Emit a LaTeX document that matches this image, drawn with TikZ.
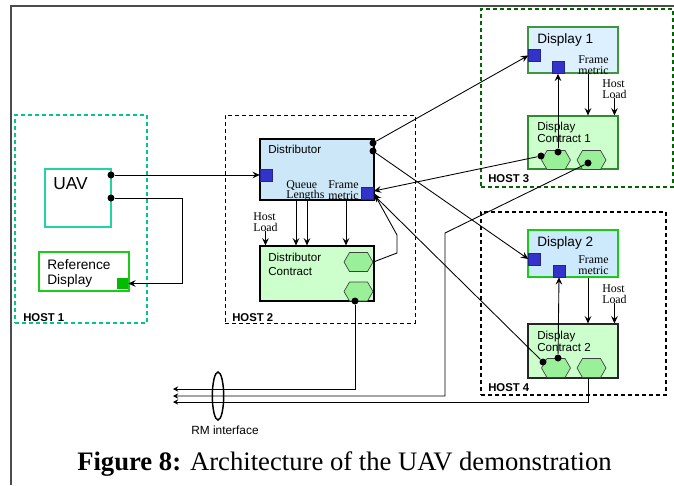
\documentclass[tikz,border=0pt]{standalone}
\usepackage{fontspec}
\setmainfont{Liberation Serif}
\setsansfont{Liberation Sans}
\usetikzlibrary{shapes.symbols,shapes.geometric,fit,arrows.meta,calc}
\definecolor{host1c}{HTML}{00C68A}
\definecolor{host3c}{HTML}{006600}
\definecolor{uavc}{HTML}{22D4A2}
\definecolor{refc}{HTML}{18CC18}
\definecolor{refsq}{HTML}{00BB00}
\definecolor{distfill}{HTML}{CCE8F8}
\definecolor{d1fill}{HTML}{DDF0FF}
\definecolor{d2fill}{HTML}{CCEAFC}
\definecolor{d1c}{HTML}{3E963E}
\definecolor{dc1c}{HTML}{2E8B2E}
\definecolor{confill}{HTML}{CCFFCC}
\definecolor{hexfill}{HTML}{99F099}
\definecolor{sqblue}{HTML}{3333CC}
\tikzset{
  hostbox/.style={draw=#1, dash pattern=on 3pt off 2.25pt, line width=0.8pt, inner sep=0pt},
  blk/.style={draw=#1, line width=0.85pt, inner sep=0pt},
  cblk/.style={draw=#1, line width=0.88pt, inner sep=0pt},
  sq/.style={fill=sqblue, draw=sqblue!70!black, line width=0.4pt, minimum size=9pt, inner sep=0pt},
  hex/.style={signal, signal to=east and west, signal pointer angle=120, draw=black!75, fill=hexfill,
    minimum width=21.75pt, minimum height=14.25pt, inner sep=0pt, line width=0.5pt},
  dot/.style={circle, fill=black, inner sep=0pt, minimum size=5.25pt},
  arr/.style={line width=0.65pt, -{Stealth[length=5.5pt,width=5pt,inset=2pt]}},
  arrs/.style={line width=0.65pt, -{Stealth[length=4pt,width=4pt,inset=1.5pt]}},
  sanslbl/.style={font=\sffamily\fontsize{#1}{#1}\selectfont, anchor=north west, inner sep=0pt, align=left},
  seriflbl/.style={font=\fontsize{8.9}{8.3}\selectfont, anchor=north west, inner sep=0pt, align=left},
  hostlbl/.style={font=\sffamily\bfseries\fontsize{8.5}{10}\selectfont, anchor=north west, inner sep=0pt},
}
\begin{document}
\begin{tikzpicture}[x=0.75pt,y=-0.75pt]
\useasboundingbox (0,0) rectangle (674,485);
% page frame
\draw[line width=1.6pt, black!70] (11,485) -- (11,6) -- (674,6);

% hosts
\node[hostbox=host1c, fit={(15,115)(147,323)}] (host1) {};
\node[hostbox=black, line width=0.75pt, fit={(225,115)(415,323)}] (host2) {};
\node[hostbox=host3c, fit={(481,9)(673,187)}] (host3) {};
\node[hostbox=black, line width=0.85pt, fit={(481,212)(666,395)}] (host4) {};
\node[hostlbl] (host1l) at (23,313) {HOST 1};
\node[hostlbl] (host2l) at (232,313) {HOST 2};
\node[hostlbl] (host3l) at (488,174) {HOST 3};
\node[hostlbl] (host4l) at (488,383) {HOST 4};

% boxes
\node[cblk=uavc, fit={(45,169)(111,227)}] (uav) {};
\node[cblk=refc, fit={(39,252)(129,291)}] (ref) {};
\node[blk=black, fill=distfill, fit={(260,139)(374,200)}] (dist) {};
\node[blk=black, fill=confill, fit={(260,246)(374,301)}] (dcon) {};
\node[cblk=d1c, fill=d1fill, fit={(528,27)(618,73)}] (d1) {};
\node[cblk=dc1c, fill=confill, fit={(528,116)(618,169)}] (dc1) {};
\node[cblk=refc, fill=d2fill, fit={(528,230)(618,277)}] (d2) {};
\node[blk=black!85, fill=confill, fit={(528,324)(618,378)}] (dc2) {};

% box texts
\node[sanslbl=13] (uavt) at (53,177) {UAV};
\node[sanslbl=10.3, font=\sffamily\fontsize{10.3}{11.25}\selectfont] (reft) at (47,259) {Reference\\Display};
\node[sanslbl=8.7] (distt) at (268,145) {Distributor};
\node[sanslbl=8.7, font=\sffamily\fontsize{8.7}{10.5}\selectfont] (dcont) at (268,253) {Distributor\\Contract};
\node[sanslbl=10.2] (d1t) at (537,33) {Display 1};
\node[sanslbl=10.2] (d2t) at (537,236) {Display 2};
\node[sanslbl=8.7, font=\sffamily\fontsize{8.7}{9}\selectfont] (dc1t) at (537,122) {Display\\Contract 1};
\node[sanslbl=8.7, font=\sffamily\fontsize{8.7}{9}\selectfont] (dc2t) at (537,331) {Display\\Contract 2};
\node[seriflbl] (ql) at (286,180) {Queue\\[-0.2pt]Lengths};
\node[seriflbl, align=center] (fm0) at (328,180) {Frame\\metric};
\node[seriflbl, align=center] (fm1) at (578,55) {Frame\\metric};
\node[seriflbl, align=center] (fm2) at (578,255) {Frame\\metric};
\node[seriflbl] (hl0) at (253,212) {Host\\Load};
\node[seriflbl] (hl1) at (602,79) {Host\\Load};
\node[seriflbl] (hl2) at (602,284) {Host\\Load};

% ports
\node[sq] (dl) at (266,175) {};
\node[sq] (dr) at (367.5,193) {};
\node[sq] (d1l) at (534.5,55.5) {};
\node[sq] (d1b) at (558,67.5) {};
\node[sq] (d2l) at (534.5,259) {};
\node[sq] (d2b) at (559,271) {};
\node[fill=refsq, minimum size=8.25pt, inner sep=0pt] (rsq) at (122.5,283.5) {};

\node[hex] (dh1) at (358.5,262) {};
\node[hex] (dh2) at (358.5,291.5) {};
\node[hex] (h1) at (556,160) {};
\node[hex] (h2) at (591.5,160) {};
\node[hex] (h3) at (556,368) {};
\node[hex] (h4) at (591.5,368) {};

\node[dot] (ua) at (111,175) {};
\node[dot] (ub) at (111,198) {};
\node[dot] (da) at (373,143) {};
\node[dot] (db) at (373,151) {};
\node[dot] (dd) at (355,301) {};
\node[dot] (h1a) at (541,156) {};
\node[dot] (h1b) at (558,152) {};
\node[dot] (h2a) at (588,163) {};
\node[dot] (h3a) at (543,362) {};
\node[dot] (h3b) at (558,358) {};

% connectors
\coordinate (ubk) at (182,198);
\draw[arr] (ua) -- (dl.west);
\draw[arr] (ub) -- (ubk) |- (rsq.east);
\draw[arr] (da) -- (d1l.west);
\draw[arr] (db) -- (d2l.west);
\draw[arr] (h1a) -- ([yshift=1.5pt]dr.east);
\draw[arr] (h3a) -- ([yshift=-1.5pt]dr.east);
\coordinate (fb1) at (397,253);
\coordinate (fb2) at (397,235);
\draw[arr] (dh1.east) -- (fb1) -- (fb2) -- (dr.east);
\draw[arr] (h1b) -- (d1b.south);
\draw[arr] (h3b) -- (d2b.south);

\draw[arr] ([xshift=-15.75pt]dist.south) -- ([xshift=-15.75pt]dcon.north);
\draw[arr] ([xshift=-7.5pt]dist.south) -- ([xshift=-7.5pt]dcon.north);
\draw[arr] ([xshift=21.75pt]dist.south) -- ([xshift=21.75pt]dcon.north);
\draw[arr] (hl0.south) -- (hl0.south |- dcon.north);
\draw[arr] ([xshift=11.25pt]d1.south) -- ([xshift=11.25pt]dc1.north);
\draw[arr] (hl1.south) -- (hl1.south |- dc1.north);
\draw[arr] ([xshift=11.25pt]d2.south) -- ([xshift=11.25pt]dc2.north);
\draw[arr] (hl2.south) -- (hl2.south |- dc2.north);

% RM interface
\coordinate (rm1) at (173,389);
\coordinate (rm2) at (173,396);
\coordinate (rm3) at (173,402);
\coordinate (bend) at (445,233);
\draw[arrs] (dd) |- (rm1);
\draw[arrs] (h2a) -- (bend) |- (rm2);
\draw[arrs] ([xshift=-2.25pt]h4.south) |- (rm3);
\node[draw, ellipse, line width=1.1pt, minimum width=8.5pt, minimum height=36pt, inner sep=0pt] (rm) at (218,396) {};
\node[font=\sffamily\fontsize{8.9}{10}\selectfont, anchor=north, inner sep=0pt] (rml) at (225,426) {RM interface};

% caption
\node[anchor=base west, font=\fontsize{20}{24}\selectfont, inner sep=0pt] (cap) at (77,470) {\textbf{Figure 8:} Architecture of the UAV demonstration};
\end{tikzpicture}
\end{document}
